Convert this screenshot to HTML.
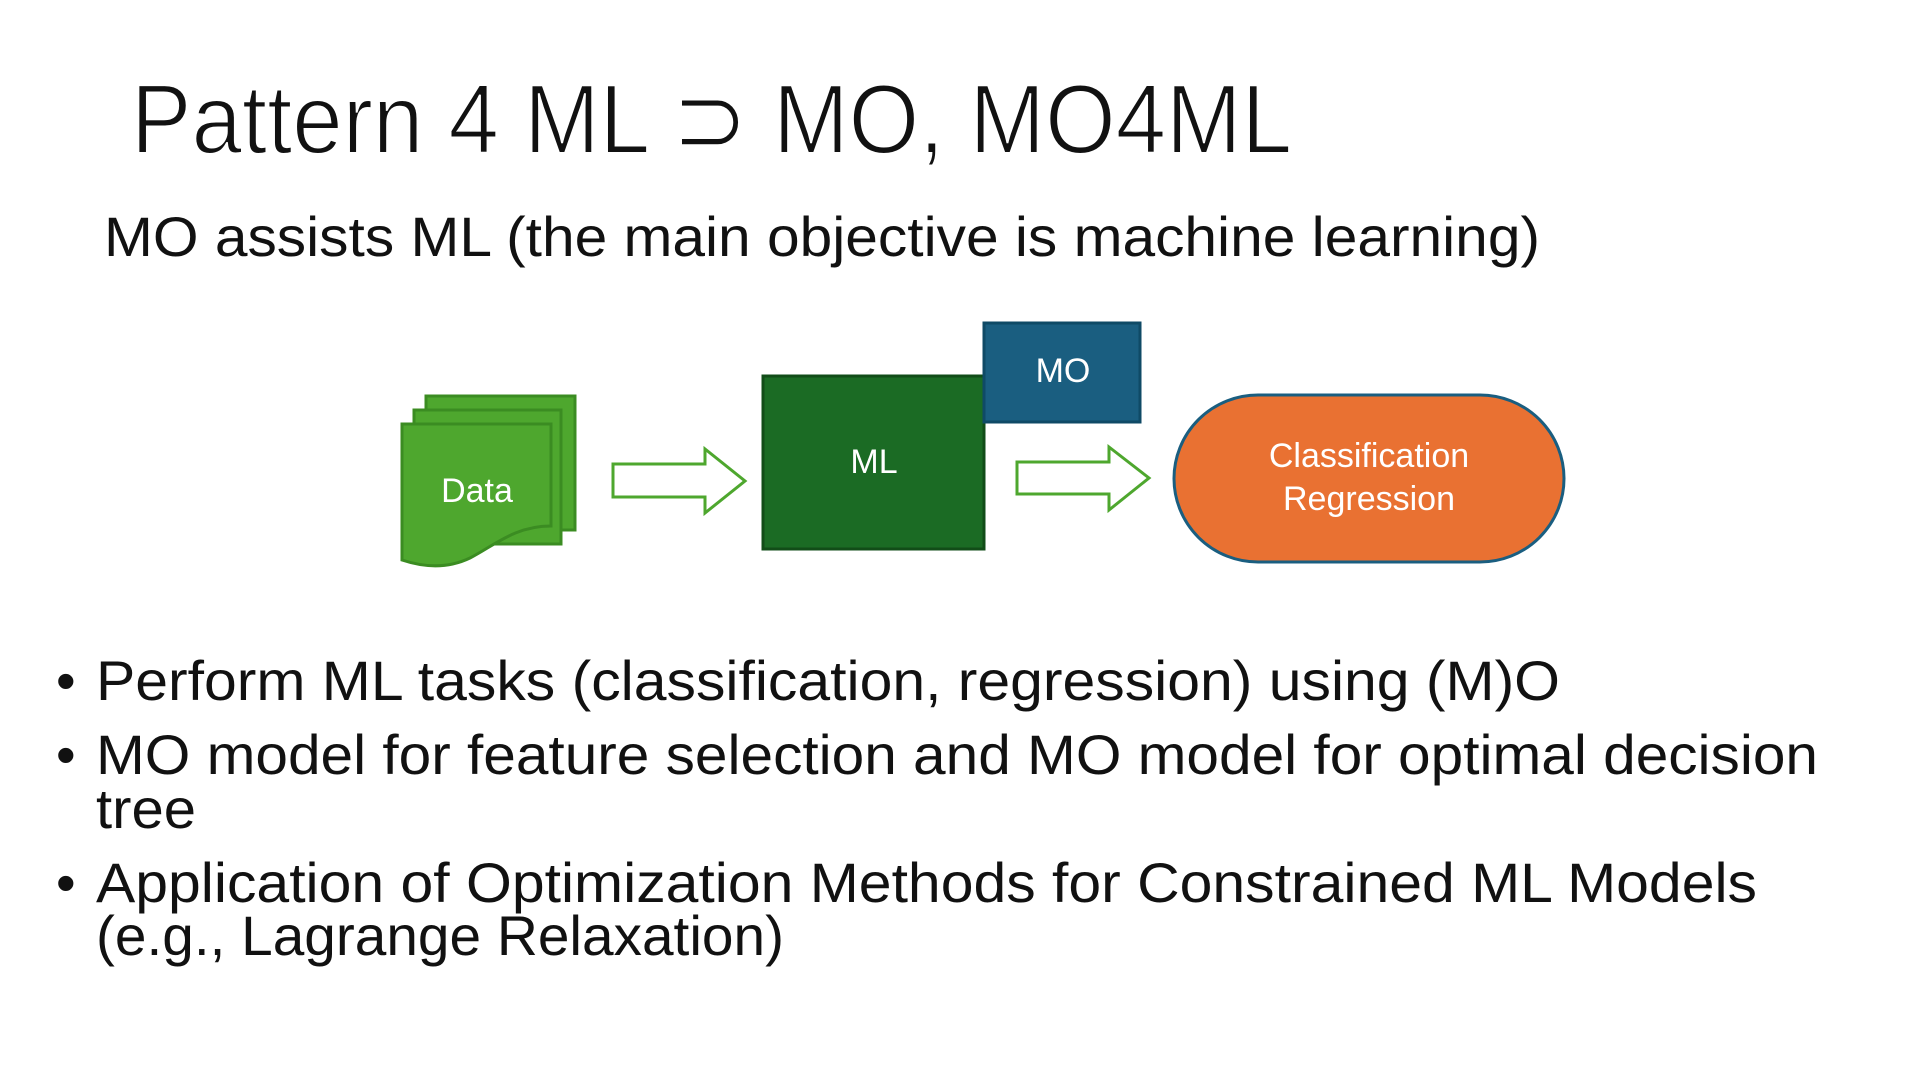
<!DOCTYPE html>
<html><head><meta charset="utf-8"><style>
html,body{margin:0;padding:0;background:#fff;}
svg{display:block;}
text{font-family:"Liberation Sans","DejaVu Sans",sans-serif;}
</style></head><body>
<svg width="1920" height="1080" viewBox="0 0 1920 1080" xmlns="http://www.w3.org/2000/svg">
<rect width="1920" height="1080" fill="#fff"/>
<text x="131" y="153" font-size="98" fill="#111" stroke="#fff" stroke-width="2" textLength="1161" lengthAdjust="spacingAndGlyphs">Pattern 4  ML ⊃ MO, MO4ML</text>
<text x="104" y="256" font-size="56" fill="#111" textLength="1436" lengthAdjust="spacingAndGlyphs">MO assists ML (the main objective is machine learning)</text>

<!-- Data stacked documents -->
<g stroke="#3b8c22" stroke-width="3" fill="#4ea72e">
<path d="M426 396 H575 V530 H426 Z"/>
<path d="M414 410 H561 V544 H414 Z"/>
<path d="M402 424 H551 V526 C515 526 495 545 470 558 C445 570 420 566 402 560 Z"/>
</g>
<text x="477" y="502" font-size="34" fill="#fff" text-anchor="middle">Data</text>

<!-- arrow 1 -->
<path d="M613 464 H705 V449 L745 481 L705 513 V497 H613 Z" fill="#fff" stroke="#4ea72e" stroke-width="3"/>

<!-- ML -->
<rect x="763" y="376" width="221" height="173" fill="#1b6b24" stroke="#124d18" stroke-width="3"/>
<text x="874" y="473" font-size="34" fill="#fff" text-anchor="middle">ML</text>

<!-- MO -->
<rect x="984" y="323" width="156" height="99" fill="#1a5e80" stroke="#0f4a66" stroke-width="3"/>
<text x="1063" y="382" font-size="34" fill="#fff" text-anchor="middle">MO</text>

<!-- arrow 2 -->
<path d="M1017 462 H1109 V447 L1149 478 L1109 510 V494 H1017 Z" fill="#fff" stroke="#4ea72e" stroke-width="3"/>

<!-- terminator -->
<rect x="1174" y="395" width="390" height="167" rx="84" ry="84" fill="#e97132" stroke="#1a5e80" stroke-width="3"/>
<text x="1369" y="467" font-size="34" fill="#fff" text-anchor="middle">Classification</text>
<text x="1369" y="510" font-size="34" fill="#fff" text-anchor="middle">Regression</text>

<!-- bullets -->
<g font-size="56" fill="#111">
<text x="56" y="700">•</text>
<text x="96" y="700" textLength="1464" lengthAdjust="spacingAndGlyphs">Perform ML tasks (classification, regression) using (M)O</text>
<text x="56" y="774">•</text>
<text x="96" y="774" textLength="1722" lengthAdjust="spacingAndGlyphs">MO model for feature selection and MO model for optimal decision</text>
<text x="96" y="828" textLength="100" lengthAdjust="spacingAndGlyphs">tree</text>
<text x="56" y="902">•</text>
<text x="96" y="902" textLength="1661" lengthAdjust="spacingAndGlyphs">Application of Optimization Methods for Constrained ML Models</text>
<text x="96" y="955" textLength="688" lengthAdjust="spacingAndGlyphs">(e.g., Lagrange Relaxation)</text>
</g>
</svg>
</body></html>
